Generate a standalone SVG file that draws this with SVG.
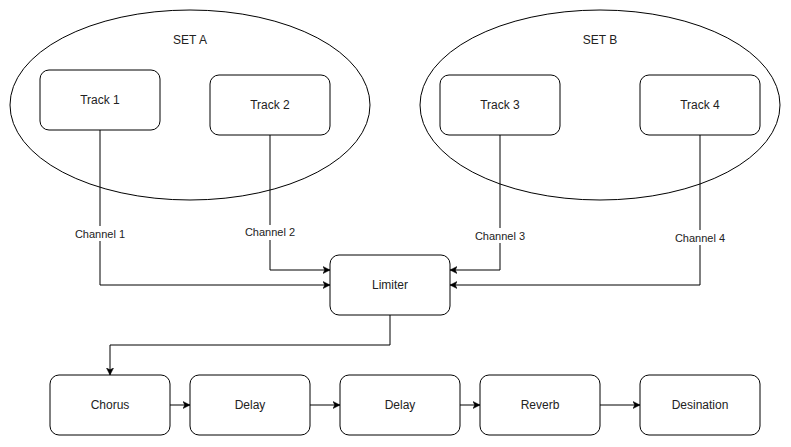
<svg xmlns="http://www.w3.org/2000/svg" width="791" height="447" viewBox="0 0 791 447">
<defs>
<style>
.node{fill:#ffffff;stroke:#000000;stroke-width:1}
.set{fill:#ffffff;stroke:#000000;stroke-width:1}
.lbl{font-family:"Liberation Sans",Arial,sans-serif;font-size:12px;fill:#222222;text-anchor:middle;dominant-baseline:central}
.elbl{font-family:"Liberation Sans",Arial,sans-serif;font-size:11px;fill:#222222;text-anchor:middle;dominant-baseline:central}
.edge{fill:none;stroke:#000000;stroke-width:1;marker-end:url(#arr)}
</style>
<marker id="arr" markerUnits="userSpaceOnUse" markerWidth="9" markerHeight="9" refX="7" refY="4" orient="auto" viewBox="0 0 9 8">
<path d="M0,0.5 L7,4 L0,7.5 L1.75,4 Z" fill="#000000" stroke="#000000" stroke-width="0.5"/>
</marker>
</defs>
<rect width="791" height="447" fill="#ffffff"/>
<g id="setA"><ellipse class="set" cx="190" cy="105" rx="180" ry="95"/><text class="lbl" x="190" y="40">SET A</text></g>
<g id="setB"><ellipse class="set" cx="600" cy="105" rx="180" ry="95"/><text class="lbl" x="600" y="40">SET B</text></g>
<g id="track1"><rect class="node" x="40" y="70" width="120" height="60" rx="9"/><text class="lbl" x="100" y="100">Track 1</text></g>
<g id="track2"><rect class="node" x="210" y="75" width="120" height="60" rx="9"/><text class="lbl" x="270" y="105">Track 2</text></g>
<g id="track3"><rect class="node" x="440" y="75" width="120" height="60" rx="9"/><text class="lbl" x="500" y="105">Track 3</text></g>
<g id="track4"><rect class="node" x="640" y="75" width="120" height="60" rx="9"/><text class="lbl" x="700" y="105">Track 4</text></g>
<g id="limiter"><rect class="node" x="330" y="255" width="120" height="60" rx="9"/><text class="lbl" x="390" y="285">Limiter</text></g>
<g id="chorus"><rect class="node" x="50" y="375" width="120" height="60" rx="9"/><text class="lbl" x="110" y="405">Chorus</text></g>
<g id="delay1"><rect class="node" x="190" y="375" width="120" height="60" rx="9"/><text class="lbl" x="250" y="405">Delay</text></g>
<g id="delay2"><rect class="node" x="340" y="375" width="120" height="60" rx="9"/><text class="lbl" x="400" y="405">Delay</text></g>
<g id="reverb"><rect class="node" x="480" y="375" width="120" height="60" rx="9"/><text class="lbl" x="540" y="405">Reverb</text></g>
<g id="destination"><rect class="node" x="640" y="375" width="120" height="60" rx="9"/><text class="lbl" x="700" y="405">Desination</text></g>
<g id="connectors">
<path class="edge" d="M100,130 L100,285 L330,285"/>
<path class="edge" d="M270,135 L270,270 L330,270"/>
<path class="edge" d="M500,135 L500,270 L450,270"/>
<path class="edge" d="M700,135 L700,285 L450,285"/>
<path class="edge" d="M390,315 L390,345 L110,345 L110,375"/>
<path class="edge" d="M170,405 L190,405"/>
<path class="edge" d="M310,405 L340,405"/>
<path class="edge" d="M460,405 L480,405"/>
<path class="edge" d="M600,405 L640,405"/>
<rect x="72" y="226" width="56" height="15" fill="#ffffff"/>
<text class="elbl" x="100" y="234">Channel 1</text>
<rect x="242" y="225" width="56" height="15" fill="#ffffff"/>
<text class="elbl" x="270" y="232">Channel 2</text>
<rect x="472" y="228" width="56" height="15" fill="#ffffff"/>
<text class="elbl" x="500" y="236">Channel 3</text>
<rect x="672" y="230" width="56" height="15" fill="#ffffff"/>
<text class="elbl" x="700" y="238">Channel 4</text>
</g>
</svg>
